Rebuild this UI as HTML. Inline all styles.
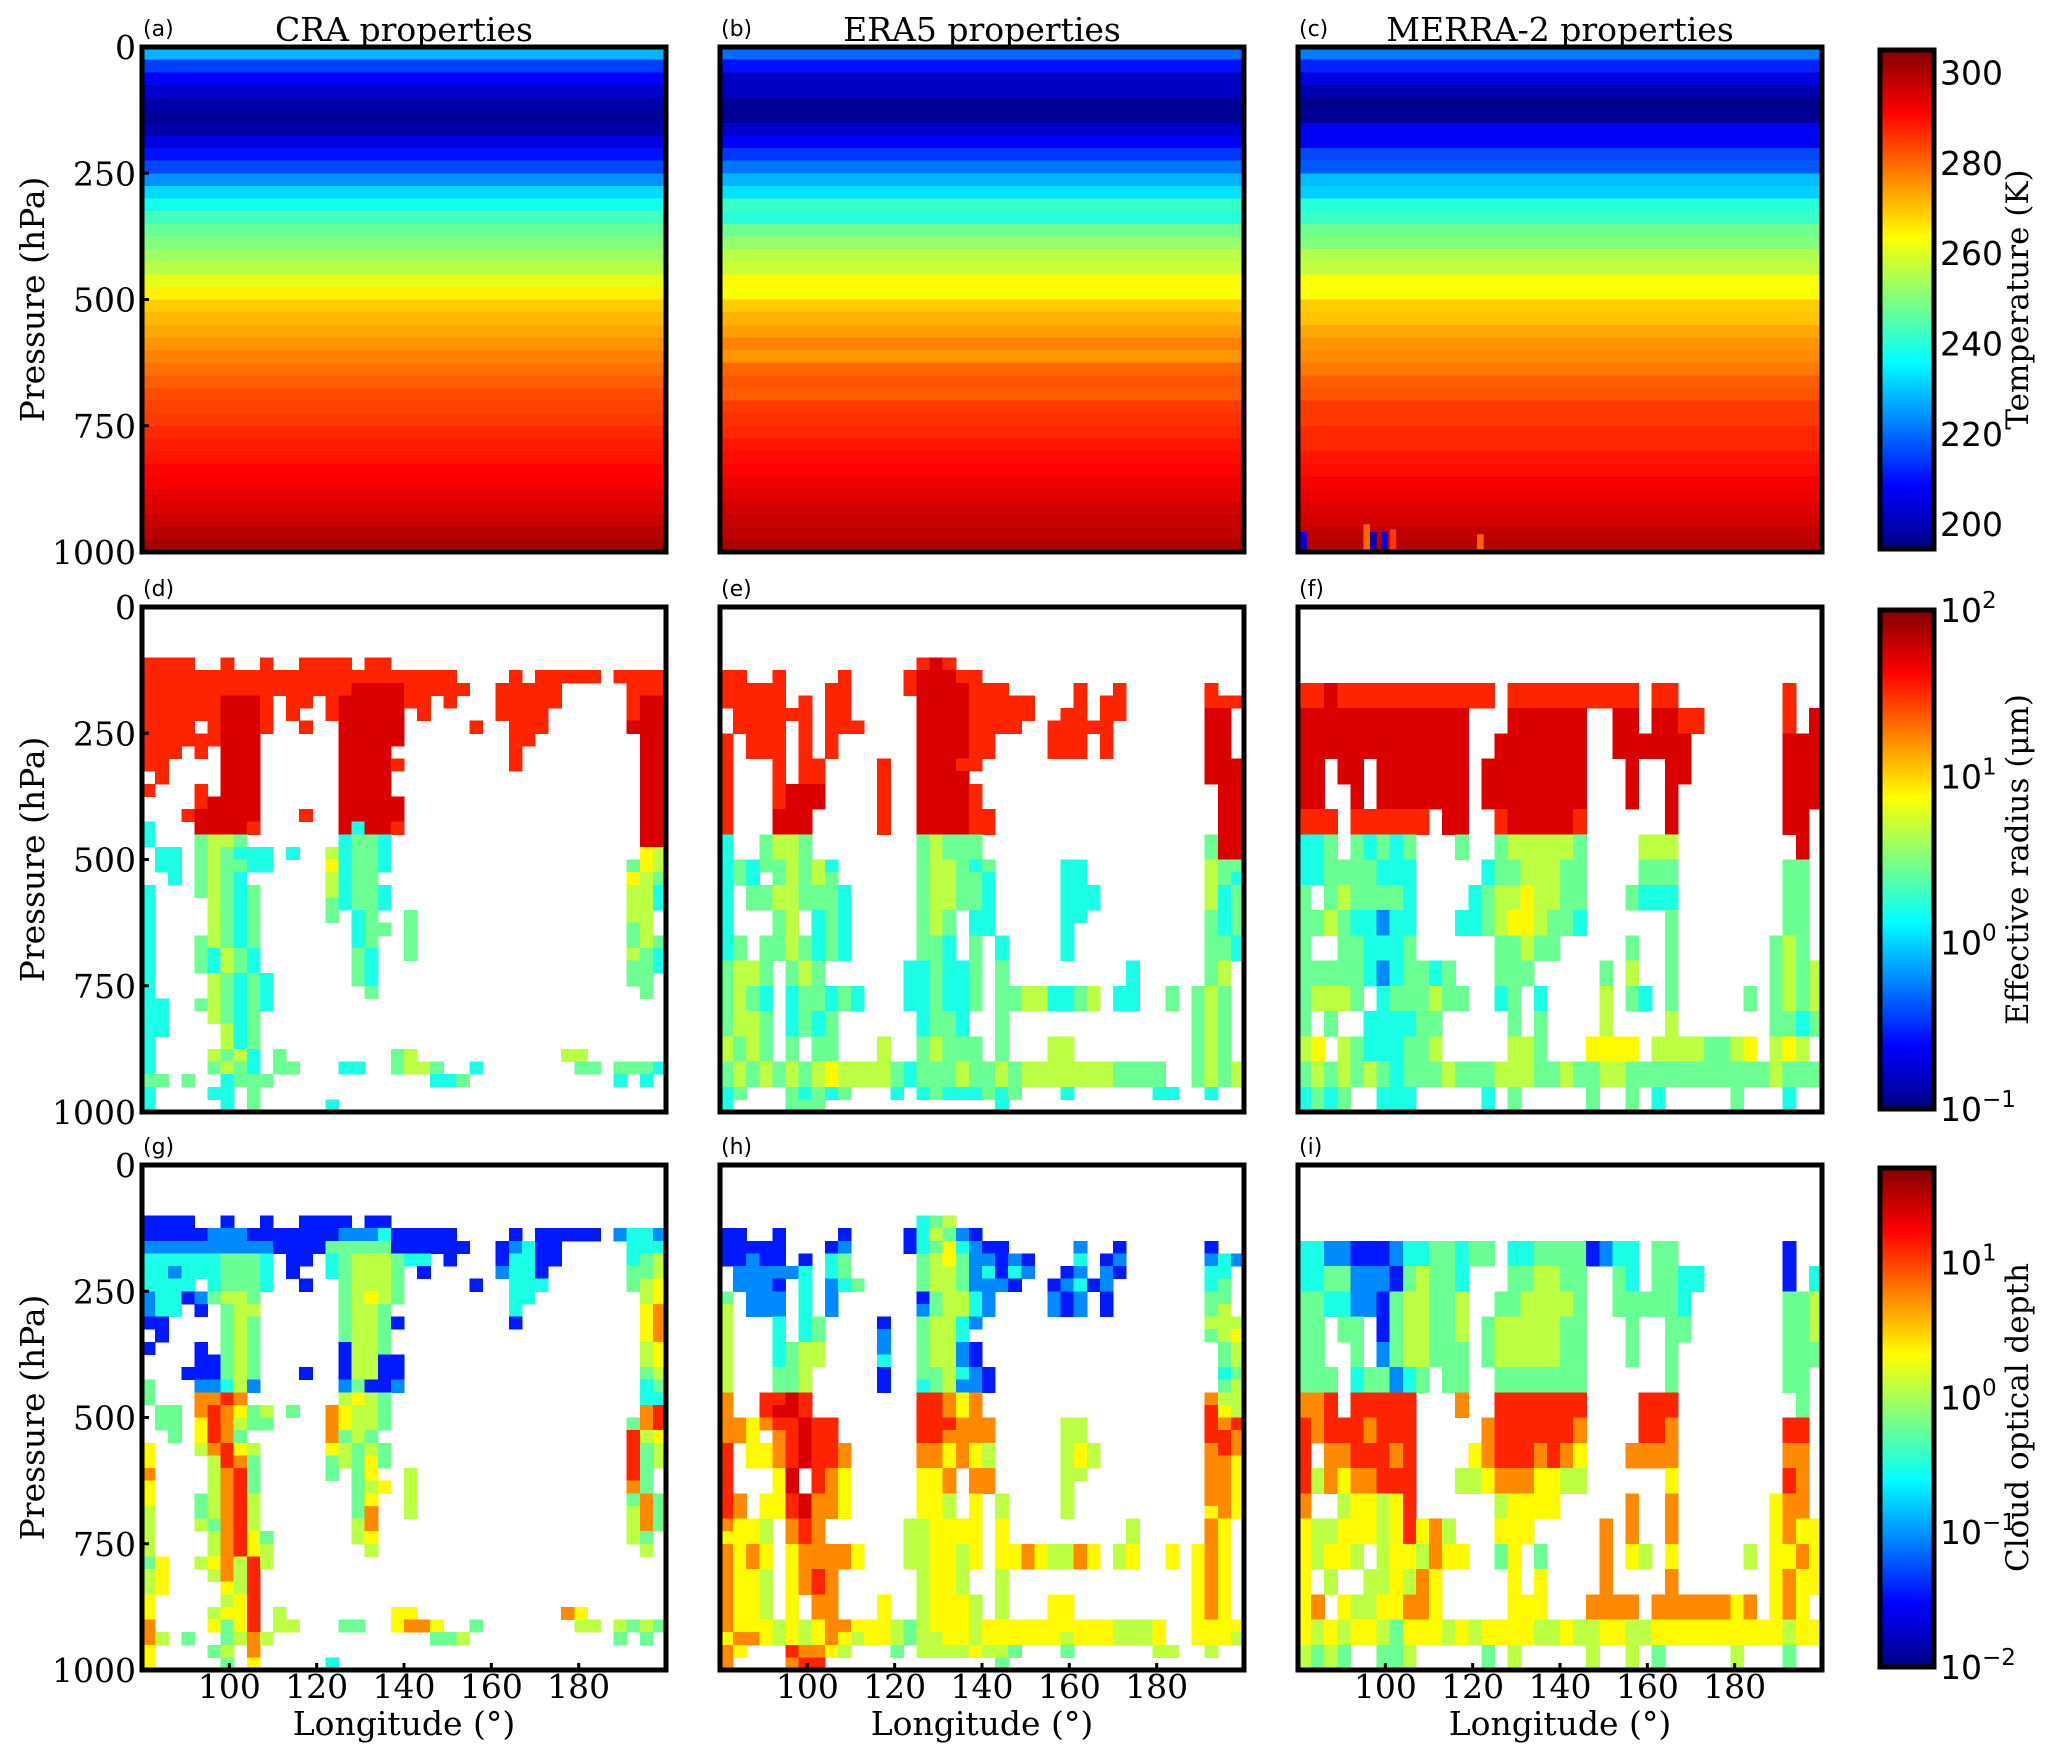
<!DOCTYPE html>
<html><head><meta charset="utf-8"><title>Cloud properties</title>
<style>
html,body{margin:0;padding:0;background:#fff;}
svg{display:block;}
.serif{font-family:"DejaVu Serif","Liberation Serif",serif;}
.sans{font-family:"DejaVu Sans","Liberation Sans",sans-serif;}
</style></head>
<body>
<svg id="fig" xmlns="http://www.w3.org/2000/svg" width="2067" height="1759" viewBox="0 0 2067 1759"></svg>
<script>
// ---------------- DATA ----------------
const _ = n => '.'.repeat(n);
const lonEdges = [80,83,86,89,92,95,98,101,104,107,110,113,116,119,122,125,128,131,134,137,140,143,146,149,152,155,158,161,164,167,170,173,176,179,182,185,188,191,194,197,200];
const pEdges25 = [100,125,150,175,200,225,250,275,300,325,350,375,400,425,450,475,500,525,550,575,600,625,650,675,700,725,750,775,800,825,850,875,900,925,950,975,1000];
const pEdges50 = [100,150,200,250,300,350,400,450,500,550,600,650,700,750,800,850,900,950,1000];
const tempEdges = [0,25,50,75,100,125,150,175,200,225,250,275,300,325,350,375,400,425,450,475,500,525,550,575,600,625,650,675,700,725,750,775,800,825,850,875,900,925,950,975,1000];
const craT = [228,215,208,203,199,197,199,205,210,216,224,232,238,243,247,250,253,256,261,265,269,271,273,275,277,279,281,283,284,285,287,288,289,291,292,294,295,297,299,301];
const era5T = [220,210,202,202,197,197,203,208,214,221,228,233,242,240,248,252,256,258,264,263,269,272,274,277,275,280,282,281,285,286,287,289,290,291,293,294,296,297,298,300];
const merraT = [222,212,205,200,196,197,207,207,216,218,229,231,240,242,248,250,255,257,263,263,269,270,273,275,276,278,281,282,285,285,287,287,289,290,292,293,295,296,298,299];
const merraAnomLon = [80.5,95,96.5,99,101,121];
const merraAnomP = [960,945,960,960,955,965];
const merraAnomT = [205,280,200,205,285,280];

const craReff = [
"8888"+_(2)+"8"+_(2)+"8"+_(2)+"8888"+_(1)+"88"+_(21),
"888888888888888888888888"+_(4)+"8"+_(1)+"88888"+_(1)+"8888",
"8888888888888888"+"9999"+"88888"+_(2)+"88888"+_(5)+"888",
"8888889998"+_(1)+"88"+_(1)+"89999988"+_(1)+"8"+_(3)+"88888"+_(5)+"899",
"8888889998"+_(1)+"8"+_(2)+"899999"+_(1)+"8"+_(5)+"8888"+_(6)+"899",
"8888"+_(1)+"89998"+_(2)+"8"+_(2)+"99999"+_(5)+"8"+_(2)+"888"+_(6)+"999",
"888888999"+_(6)+"99999"+_(8)+"88"+_(8)+"99",
"888.8.999"+_(6)+"9999"+_(9)+"8"+_(9)+"99",
"88....999"+_(6)+"9999"+"8"+_(8)+"8"+_(9)+"99",
".8....999"+_(6)+"9999"+_(19)+"99",
"8...8.999"+_(6)+"9999"+_(19)+"99",
"....89999"+_(6)+"99999"+_(18)+"99",
"...899999"+_(3)+"8"+_(2)+"99999"+_(18)+"99",
"3...99998"+_(6)+"9399"+"8"+_(18)+"99",
"3...4554"+_(7)+"3443"+_(19)+"99",
".33.454333.3..53443"+_(19)+"65",
".33.454433....63443"+_(18)+"465",
"..3.4543......5344."+_(18)+"654",
"3...45434.....53443"+_(18)+"553",
"3....5434.....43443"+_(18)+"553",
"3....5434.....4.34..4"+_(16)+"55.",
"3....5434.......344.4"+_(16)+"45.",
"3...45434.......34..4"+_(16)+"454",
"3...43543.......43..4"+_(16)+"543",
"3...43543.......43..."+_(16)+"443",
"3....54343......43..."+_(16)+"44.",
"3....54343.......4..."+_(16)+".4.",
"33..454343"+_(30),
"33...5434."+_(30),
"33....534."+_(30),
"3.....534."+_(30),
"3....5453.4"+_(8)+"45"+_(11)+"55"+_(6),
"3....4543.44...33..4554..3"+_(7)+"44.4443",
"44.4..3444"+_(12)+"334"+_(11)+"3.3.",
"3....33.4"+_(31),
"3.....3.4.....3"+_(25)
];
const craTau = [
"1111"+_(2)+"1"+_(2)+"1"+_(2)+"1111"+_(1)+"11"+_(21),
"111112221111111222311111"+_(4)+"1"+_(1)+"11111"+_(1)+"2332",
"2222222222"+"111144444111111"+_(2)+"12311"+_(5)+"333",
"3333334443"+_(1)+"11"+_(1)+"34555433"+_(1)+"1"+_(3)+"13311"+_(5)+"345",
"3323334443"+_(1)+"1"+_(2)+"345554"+_(1)+"1"+_(5)+"2331"+_(6)+"445",
"3333"+_(1)+"34443"+_(2)+"1"+_(2)+"45554"+_(5)+"1"+_(2)+"333"+_(6)+"456",
"233124554"+_(6)+"45654"+_(8)+"33"+_(8)+"56",
"233.1.455"+_(6)+"4554"+_(9)+"3"+_(9)+"67",
"11....454"+_(6)+"4554"+"1"+_(8)+"1"+_(9)+"67",
".1....454"+_(6)+"4554"+_(19)+"67",
"1...1.454"+_(6)+"1554"+_(19)+"56",
"....11454"+_(6)+"15511"+_(18)+"56",
"...111454"+_(3)+"1"+_(2)+"15511"+_(18)+"45",
"4...22352"+_(6)+"2411"+"2"+_(18)+"34",
"4...7787"+_(7)+"5654"+_(19)+"33",
".44.787645.4..76554"+_(19)+"78",
".44.687544....76554"+_(18)+"478",
"..4.6874......7454."+_(18)+"856",
"6...57865.....65454"+_(18)+"845",
"6....5874.....45464"+_(18)+"845",
"7....5784.....4.46..5"+_(16)+"84.",
"6....5784.......456.5"+_(16)+"74.",
"6...45785.......46..5"+_(16)+"474",
"5...45785.......47..5"+_(16)+"574",
"5...54785.......57..."+_(16)+"574",
"5....57864......56..."+_(16)+"54.",
"5....57865.......5..."+_(16)+".5.",
"46..567585"+_(30),
"56...5758."+_(30),
"56....658."+_(30),
"6.....568."+_(30),
"6....5668.5"+_(8)+"66"+_(11)+"76"+_(6),
"7....6468.55...44..6776..4"+_(7)+"55.5454",
"75.4..4575"+_(12)+"445"+_(11)+"4.4.",
"6....45.7"+_(31),
"6.....4.6.....3"+_(25)
];
const era5Reff = [
_(15)+"898"+_(22),
"88..8....8....899988"+_(20),
"88888...88....8999988"+"8"+_(5)+"8"+_(2)+"8"+_(6)+"8"+_(2),
"88888.8.88"+_(5)+"9999"+"88"+"8"+"88"+_(3)+"8"+_(1)+"88"+_(6)+"888",
".8888"+"88"+".88"+_(5)+"9999"+"888"+"88"+_(2)+"88"+_(1)+"88"+_(6)+"99.",
".8888.8.888"+_(4)+"9999"+"88"+"88"+_(2)+"88"+"8"+"88"+_(7)+"99.",
"8.888.8.8"+_(6)+"999988"+_(4)+"88"+"8"+_(1)+"8"+_(7)+"99.",
"8.888.8.8"+_(6)+"999988"+_(4)+"88"+"8"+_(1)+"8"+_(7)+"99.",
"8...8.88"+_(4)+"8"+_(2)+"99988"+_(17)+"999",
"8...8.88"+_(4)+"8"+_(2)+"9999"+_(18)+"999",
"8...8999"+_(4)+"8"+_(2)+"99998"+_(18)+"99",
"8...8999"+_(4)+"8"+_(2)+"99998"+_(18)+"99",
"8...999"+_(5)+"8"+_(2)+"999988"+_(17)+"99",
"8...999"+_(5)+"8"+_(2)+"999988"+_(17)+"99",
"3..4554"+_(8)+"45444"+_(17)+"499",
"3..4554"+_(8)+"45444"+_(17)+"499",
"343445453"+_(6)+"455434"+_(5)+"33"+_(9)+"544",
"343.45454"+_(6)+"455443"+_(5)+"33"+_(9)+"543",
"3.44554443"+_(5)+"455443"+_(5)+"333"+_(8)+"534",
"3.44554443"+_(5)+"455443"+_(5)+"333"+_(8)+"534",
"3...45.343"+_(5)+"454.33"+_(5)+"33"+_(9)+"434",
"3...45.343"+_(5)+"454.33"+_(5)+"3."+_(9)+"434",
"34.4454343"+_(5)+"443.4.3"+_(4)+"3"+_(10)+"443",
"34.4454343"+_(5)+"443.4.3"+_(4)+"3"+_(10)+"443",
"4554.454"+_(6)+"334334.4"+_(9)+"3"+_(5)+"45.",
"4554.454"+_(6)+"334334.4"+_(9)+"3"+_(5)+"45.",
"4543.344343"+_(3)+"334334.445533"+"45.33..4.454.",
"4543.344343"+_(3)+"334334.445533"+"45.33..4.454.",
"4554.3434"+_(6)+"3443"+_(2)+"4"+_(14)+"454.",
"4554.3434"+_(6)+"3443"+_(2)+"4"+_(14)+"454.",
"5454.4.44"+_(3)+"5"+_(2)+"45444.4"+_(3)+"55"+_(9)+"454.",
"5454.4.44"+_(3)+"5"+_(2)+"45444.4"+_(3)+"55"+_(9)+"454.",
"4545454565555"+"434"+"445445455555554"+"44"+"4"+".."+"454"+"5",
"4545454565555"+"434"+"445445455555554"+"44"+"4"+".."+"454"+"5",
"34"+"..."+"434"+"34"+"..."+"3"+"."+"3433"+"3434"+"..."+"3"+"......"+"33"+".."+"3"+"..",
"3....444"+_(13)+"3"+_(18)
];
const era5Tau = [
_(15)+"345"+_(22),
"11..1....1....135421"+_(20),
"11111...12....1346321"+"1"+_(5)+"2"+_(2)+"1"+_(6)+"1"+_(2),
"11211.1.34"+_(5)+"4564"+"22"+"1"+"21"+_(3)+"3"+_(1)+"12"+_(6)+"232",
".2222"+"23"+".34"+_(5)+"4554"+"231"+"32"+_(2)+"12"+_(1)+"21"+_(6)+"33.",
".2221.3.234"+_(4)+"4554"+"22"+"21"+_(2)+"12"+"3"+"12"+_(7)+"34.",
"4.222.3.2"+_(6)+"145532"+_(4)+"21"+"2"+_(1)+"1"+_(7)+"44.",
"5.222.3.2"+_(6)+"245532"+_(4)+"21"+"2"+_(1)+"1"+_(7)+"45.",
"5...3.34"+_(4)+"1"+_(2)+"45532"+_(17)+"555",
"5...3.34"+_(4)+"2"+_(2)+"4553"+_(18)+"456",
"5...3455"+_(4)+"2"+_(2)+"45521"+_(18)+"45",
"5...3455"+_(4)+"3"+_(2)+"45521"+_(18)+"45",
"5...445"+_(5)+"1"+_(2)+"445321"+_(17)+"34",
"5...445"+_(5)+"1"+_(2)+"345221"+_(17)+"45",
"7..8898"+_(8)+"88767"+_(17)+"755",
"7..8998"+_(8)+"88767"+_(17)+"865",
"776788988"+_(6)+"888777"+_(5)+"55"+_(9)+"878",
"776.78988"+_(6)+"887777"+_(5)+"55"+_(9)+"887",
"8.66789887"+_(5)+"776765"+_(5)+"565"+_(8)+"787",
"8.66789887"+_(5)+"776765"+_(5)+"565"+_(8)+"776",
"8...69.876"+_(5)+"667.77"+_(5)+"55"+_(9)+"776",
"8...69.876"+_(5)+"667.77"+_(5)+"5."+_(9)+"776",
"87.6689776"+_(5)+"665.6.5"+_(4)+"5"+_(10)+"776",
"87.6689776"+_(5)+"665.6.5"+_(4)+"5"+_(10)+"676",
"7665.787"+_(6)+"556666.6"+_(9)+"5"+_(5)+"76.",
"6665.787"+_(6)+"556666.6"+_(9)+"5"+_(5)+"76.",
"7676.677776"+_(3)+"556656.667655"+"76.56..6.676.",
"7676.677776"+_(3)+"556656.667655"+"76.56..6.676.",
"7665.6787"+_(6)+"5665"+_(2)+"5"+_(14)+"676.",
"7665.6787"+_(6)+"5665"+_(2)+"5"+_(14)+"676.",
"7665.6.77"+_(3)+"6"+_(2)+"56665.5"+_(3)+"66"+_(9)+"676.",
"7665.6.77"+_(3)+"6"+_(2)+"56665.5"+_(3)+"66"+_(9)+"676.",
"7666565677666"+"545"+"666566666666665"+"55"+"6"+".."+"666"+"6",
"6776565676566"+"545"+"566566666656665"+"55"+"6"+".."+"666"+"5",
"76"+"..."+"877"+"65"+"..."+"4"+"."+"5555"+"6554"+"..."+"4"+"......"+"55"+".."+"5"+"..",
"7....788"+_(13)+"4"+_(18)
];
const merraReff = [
_(40),
"8898888"+"888"+"8888"+"8"+"."+"888888"+"8888"+"."+"88"+_(8)+"8"+"..",
"999999"+"9999"+"999"+"..."+"999999"+".."+"99"+"."+"99"+"88"+_(6)+"8"+"."+"9",
"999999"+"99999"+"99"+".."+"9999999"+".."+"999"+"999"+_(7)+"999",
"99"+"."+"99"+"."+"99999"+"99"+"."+"99999999"+_(3)+"9"+_(2)+"99"+_(7)+"999",
"99"+".."+"9"+"."+"99999"+"99"+"."+"99999999"+_(3)+"9"+_(2)+"9"+_(8)+"999",
"888"+"."+"888888"+"."+"99"+".."+"8999998"+_(6)+"9"+_(8)+"99.",
"334.43434...4..4555554....555"+_(9)+"9.",
"334444333"+_(5)+"34455544"+_(4)+"444"+_(8)+"44.",
"4.4544443"+_(4)+"3"+"45565544"+_(3)+"4"+"333"+_(8)+"44.",
"4"+"454"+"3323"+"3"+_(3)+"33"+"45665443"+_(6)+"4"+_(8)+"44.",
"4..443334"+_(6)+"44544"+_(5)+"4..4"+_(7)+"454.",
"44444323443"+"4"+_(3)+"444"+_(5)+"4.5..4"+_(7)+"4545",
"4"+"555"+"4"+"."+"3"+"444544"+".."+"3"+"4"+"."+"3"+"...."+"5"+"."+"4"+"3"+"."+"4"+_(5)+"4.4545",
"4.4..333344"+_(5)+"4.4"+_(4)+"5"+_(4)+"5"+_(7)+"4434",
"56"+"."+"54"+"33"+"3445"+_(5)+"554"+_(3)+"66"+"66"+"."+"55554456"+"."+"565"+".",
"4545454344454"+"44"+"5554"+"45445544"+"4444444445444",
"3434"+".."+"33"+"3"+"....."+"3"+"."+"4"+"....."+"4"+".."+"4"+"."+"3"+"....."+"4"+"..."+"3"+".."
];
const merraTau = [
_(40),
"3322111"+"233"+"4434"+"4"+"."+"334444"+"1233"+"."+"44"+_(8)+"1"+"..",
"334422"+"2145"+"443"+"..."+"445544"+".."+"43"+"."+"44"+"33"+_(6)+"1"+"."+"3",
"443322"+"14554"+"45"+".."+"4455554"+".."+"444"+"443"+_(7)+"445",
"44"+"."+"44"+"."+"14554"+"45"+"."+"45555544"+_(3)+"4"+_(2)+"44"+_(7)+"445",
"44"+".."+"4"+"."+"24554"+"44"+"."+"45555544"+_(3)+"4"+_(2)+"4"+_(8)+"444",
"444"+"."+"344234"+"."+"44"+".."+"4444444"+_(6)+"4"+_(8)+"44.",
"778"+"."+"8888"+"8"+"..."+"7"+".."+"8888888"+"...."+"888"+_(9)+"4.",
"878887888"+_(5)+"78888887"+_(4)+"887"+_(8)+"88.",
"8.7788878"+_(4)+"6"+"78887876"+_(3)+"7"+"777"+_(8)+"77.",
"8"+"576"+"7788"+"8"+_(3)+"55"+"67776655"+_(6)+"6"+_(8)+"87.",
"7..566568"+_(6)+"56666"+_(5)+"7..7"+_(7)+"677.",
"65566656867"+"5"+_(3)+"666"+_(5)+"7.7..7"+_(7)+"6766",
"6"+"566"+"5"+"."+"5"+"665766"+".."+"4"+"6"+"."+"4"+"...."+"7"+"."+"6"+"5"+"."+"6"+_(5)+"5.6676",
"6.5..556576"+_(5)+"6.6"+_(4)+"7"+_(4)+"7"+_(7)+"6766",
"67.65566776"+_(5)+"666"+_(3)+"77"+"77"+"."+"77777767"+"."+"676"+".",
"6565665466656"+"56"+"6665"+"56556655"+"6666666666566",
"5454"+".."+"44"+"5"+"....."+"4"+"."+"5"+"....."+"5"+".."+"5"+"."+"4"+"....."+"5"+"..."+"4"+".."
];
const yTicks = [0,250,500,750,1000];
const xTicks = [100,120,140,160,180];
const tempCbTicks = [200,220,240,260,280,300];
const reffCbExp = [-1,0,1,2];
const tauCbExp = [-2,-1,0,1];
const titles = ["CRA properties","ERA5 properties","MERRA-2 properties"];
const letters = ["(a)","(b)","(c)","(d)","(e)","(f)","(g)","(h)","(i)"];
const cbLabels = ["Temperature (K)","Effective radius (μm)","Cloud optical depth"];
const digitLevels = [0.05,0.15,0.26,0.40,0.48,0.56,0.63,0.74,0.84,0.91];

// ---------------- LAYOUT ----------------
const NS = 'http://www.w3.org/2000/svg';
const svg = document.getElementById('fig');
const colX = [142,720,1298], rowY = [47,607,1165], PW = 524, PH = 505;
const cbX = 1880, cbW = 54;
const LON0 = 80, LON1 = 200, T0 = 194.5, T1 = 305;
function mk(tag, attrs, parent){const e=document.createElementNS(NS,tag);for(const k in attrs)e.setAttribute(k,attrs[k]);(parent||svg).appendChild(e);return e;}
function cl(x){return Math.max(0,Math.min(1,x));}
function jet(v){v=cl(v);const r=cl(Math.min(4*v-1.5,-4*v+4.5)),g=cl(Math.min(4*v-0.5,-4*v+3.5)),b=cl(Math.min(4*v+0.5,-4*v+2.5));return 'rgb('+Math.round(r*255)+','+Math.round(g*255)+','+Math.round(b*255)+')';}
function digitV(ch){return digitLevels[parseInt(ch,10)];}
function xs(col,lon){return colX[col]+(lon-LON0)/(LON1-LON0)*PW;}
function ys(row,p){return rowY[row]+p/1000*PH;}

function drawTemp(col, temps, g){
  for(let i=0;i<temps.length;i++){
    const y0=ys(0,tempEdges[i]), y1=ys(0,tempEdges[i+1]);
    const r=mk('rect',{x:colX[col],y:y0,width:PW,height:(y1-y0)+0.6,fill:jet((temps[i]-T0)/(T1-T0)),'shape-rendering':'crispEdges'},g);
    
    
  }
}
function drawGrid(row,col,grid,edges,g,name){
  for(let i=0;i<grid.length;i++){
    const s=grid[i].padEnd(40,'.').slice(0,40);
    const y0=ys(row,edges[i]), y1=ys(row,edges[i+1]);
    for(let c=0;c<40;c++){
      const ch=s[c]; if(ch==='.')continue;
      const x0=xs(col,lonEdges[c]), x1=xs(col,lonEdges[c+1]);
      const r=mk('rect',{x:x0,y:y0,width:(x1-x0)+0.6,height:(y1-y0)+0.6,fill:jet(digitV(ch)),'shape-rendering':'crispEdges'},g);
      
      
    }
  }
}

const panelData = [
  [ {t:craT}, {t:era5T}, {t:merraT} ],
  [ {g:craReff,e:pEdges25}, {g:era5Reff,e:pEdges25}, {g:merraReff,e:pEdges50} ],
  [ {g:craTau,e:pEdges25}, {g:era5Tau,e:pEdges25}, {g:merraTau,e:pEdges50} ]
];
const cellNames = ['temperature-band','effective-radius-cell','optical-depth-cell'];
for(let row=0;row<3;row++){
  for(let col=0;col<3;col++){
    const g=mk('g',{});
    
    
    const d=panelData[row][col];
    if(row===0){ drawTemp(col,d.t,g); }
    else { drawGrid(row,col,d.g,d.e,g,cellNames[row]); }
    if(row===0 && col===2){
      for(let k=0;k<merraAnomLon.length;k++){
        const x0=xs(2,merraAnomLon[k]), y0=ys(0,merraAnomP[k]);
        const a=mk('rect',{x:x0,y:y0,width:PW*1.5/120,height:ys(0,1000)-y0,fill:jet((merraAnomT[k]-T0)/(T1-T0))},g);
        
        
      }
    }
    const f=mk('rect',{x:colX[col],y:rowY[row],width:PW,height:PH,fill:'none',stroke:'#000','stroke-width':5},g);
    
    
    const lt=mk('text',{x:colX[col]+1,y:rowY[row]-11,'font-size':22,class:'sans',fill:'#000'},g);
    lt.textContent=letters[row*3+col];
    
    
    if(col===0){
      for(const p of yTicks){
        const yy=ys(row,p);
        const tl=mk('text',{x:colX[0]-6,y:yy+12,'font-size':33,'text-anchor':'end',class:'serif',fill:'#000'},g);
        tl.textContent=String(p);
        
        
        if(p>0&&p<1000){
          const tk=mk('line',{x1:colX[0],x2:colX[0]+7,y1:yy,y2:yy,stroke:'#000','stroke-width':3},g);
          
          
        }
      }
      const yl=mk('text',{x:0,y:0,'font-size':33,'text-anchor':'middle',class:'serif',fill:'#000',transform:'translate(44,'+(rowY[row]+PH/2)+') rotate(-90)'},g);
      yl.textContent='Pressure (hPa)';
      
      
    }
    if(row===2){
      for(const lon of xTicks){
        const xx=xs(col,lon);
        const tl=mk('text',{x:xx,y:rowY[2]+PH+28,'font-size':33,'text-anchor':'middle',class:'serif',fill:'#000'},g);
        tl.textContent=String(lon);
        
        
        const tk=mk('line',{x1:xx,x2:xx,y1:rowY[2]+PH,y2:rowY[2]+PH-7,stroke:'#000','stroke-width':3},g);
        
        
      }
      const xl=mk('text',{x:colX[col]+PW/2,y:1735,'font-size':33,'text-anchor':'middle',class:'serif',fill:'#000'},g);
      xl.textContent='Longitude (°)';
      
      
    }
    if(row===0){
      const tt=mk('text',{x:colX[col]+PW/2,y:41,'font-size':33,'text-anchor':'middle',class:'serif',fill:'#000'},g);
      tt.textContent=titles[col];
      
      
    }
  }
}

const defs=mk('defs',{});
const grad=mk('linearGradient',{id:'jetv',x1:0,y1:1,x2:0,y2:0},defs);
for(let i=0;i<=40;i++){mk('stop',{offset:(i/40),'stop-color':jet(i/40)},grad);}
const cbRange=[[T0,T1],[-1,2],[-2,1.7]];
for(let row=0;row<3;row++){
  const g=mk('g',{});
  
  
  const y0=rowY[row]+3, h=PH-6;
  const bar=mk('rect',{x:cbX,y:y0,width:cbW,height:h,fill:'url(#jetv)',stroke:'#000','stroke-width':5},g);
  
  
  const [lo,hi]=cbRange[row];
  const cy=v=>y0+h-(v-lo)/(hi-lo)*h;
  const vals = row===0?tempCbTicks:(row===1?reffCbExp:tauCbExp);
  for(const v of vals){
    const yy=cy(v);
    const t=mk('text',{x:cbX+cbW+6,y:yy+12,'font-size':33,class:'sans',fill:'#000'},g);
    if(row===0){ t.textContent=String(v); }
    else {
      t.textContent='10';
      const sp=mk('tspan',{dy:-14,'font-size':23},t);
      sp.textContent=(v<0?'\u2212':'')+Math.abs(v);
    }
    
    
  }
  const lb=mk('text',{x:0,y:0,'font-size':31,'text-anchor':'middle',class:'serif',fill:'#000',transform:'translate(2028,'+(rowY[row]+PH/2)+') rotate(-90)'},g);
  lb.textContent=cbLabels[row];
  
  
}
</script>
</body></html>
